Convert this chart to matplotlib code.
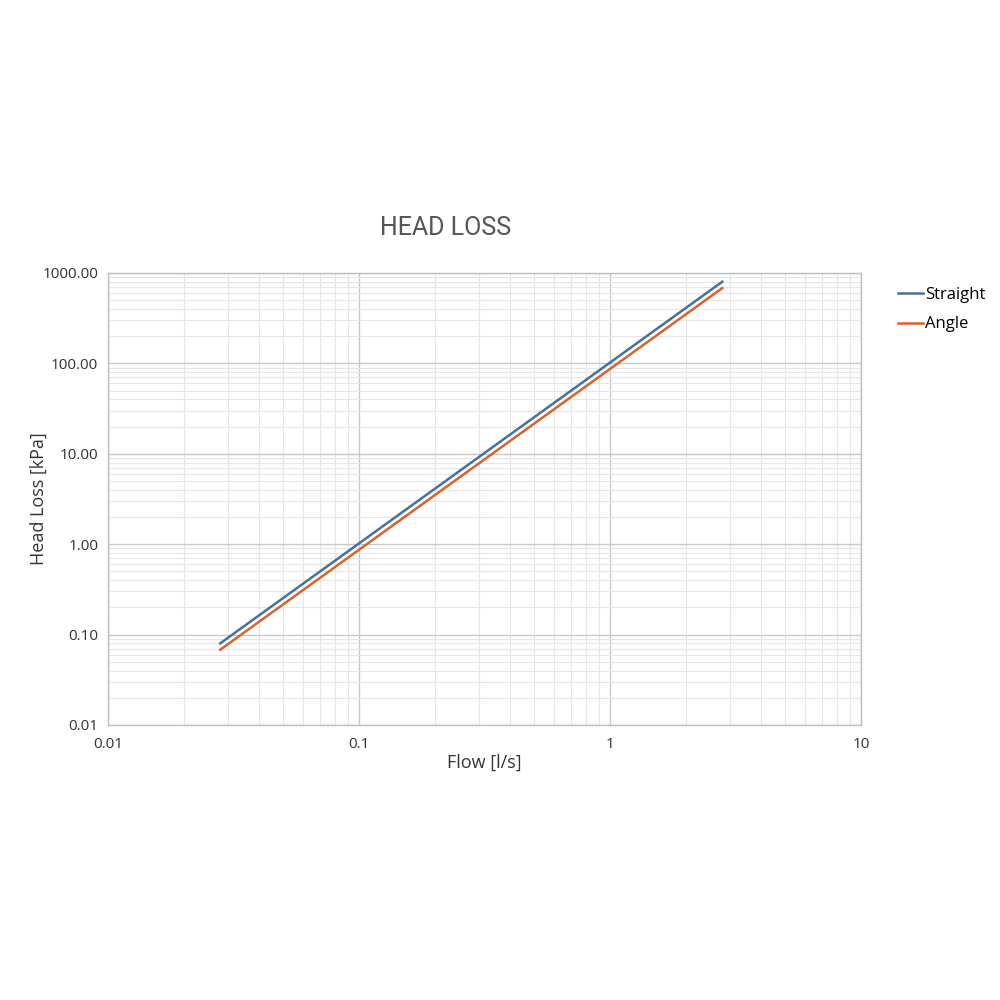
import matplotlib.pyplot as plt
from matplotlib.ticker import LogLocator, FixedLocator

# data
flow = [0.028, 2.8]
straight = [0.08, 800]
angle = [0.068, 680]

x_ticks = [0.01, 0.1, 1, 10]
x_labels = ['0.01', '0.1', '1', '10']
y_ticks = [0.01, 0.1, 1, 10, 100, 1000]
y_labels = ['0.01', '0.10', '1.00', '10.00', '100.00', '1000.00']

plt.rcParams['font.family'] = ['Open Sans', 'DejaVu Sans']

fig = plt.figure(figsize=(10, 10), dpi=100)
ax = fig.add_axes([0.108, 0.275, 0.753, 0.452])

ax.plot(flow, straight, color='#44729d', lw=1.8, label='Straight')
ax.plot(flow, angle, color='#d9622b', lw=1.8, label='Angle')

ax.set_xscale('log')
ax.set_yscale('log')
ax.set_xlim(0.01, 10)
ax.set_ylim(0.01, 1000)

ax.xaxis.set_major_locator(FixedLocator(x_ticks))
ax.set_xticklabels(x_labels)
ax.yaxis.set_major_locator(FixedLocator(y_ticks))
ax.set_yticklabels(y_labels)
ax.xaxis.set_minor_locator(LogLocator(base=10, subs=range(2, 10), numticks=20))
ax.yaxis.set_minor_locator(LogLocator(base=10, subs=range(2, 10), numticks=20))
ax.tick_params(which='both', length=0, labelsize=11, colors='#333333')
ax.tick_params(axis='x', pad=9)
ax.tick_params(axis='y', pad=7)
ax.xaxis.set_minor_formatter(plt.NullFormatter())
ax.yaxis.set_minor_formatter(plt.NullFormatter())

ax.grid(which='major', color='#c8c8c8', lw=1)
ax.grid(which='minor', color='#e6e6e6', lw=0.8)
ax.set_axisbelow(True)
for s in ax.spines.values():
    s.set_color('#bfbfbf')
    s.set_linewidth(1)

ax.set_xlabel('Flow [l/s]', fontsize=13, color='#333333', labelpad=1)
ax.set_ylabel('Head Loss [kPa]', fontsize=13, color='#333333', labelpad=-4)

fig.text(0.446, 0.772, 'HEAD LOSS', fontsize=18, color='#555555',
         ha='center', va='center', family=['Roboto', 'DejaVu Sans'])

fig.legend(loc='upper left', bbox_to_anchor=(0.883, 0.728), frameon=False,
           fontsize=12, handlelength=1.5, handletextpad=0.1, labelspacing=0.8)

fig.savefig('out.png')
